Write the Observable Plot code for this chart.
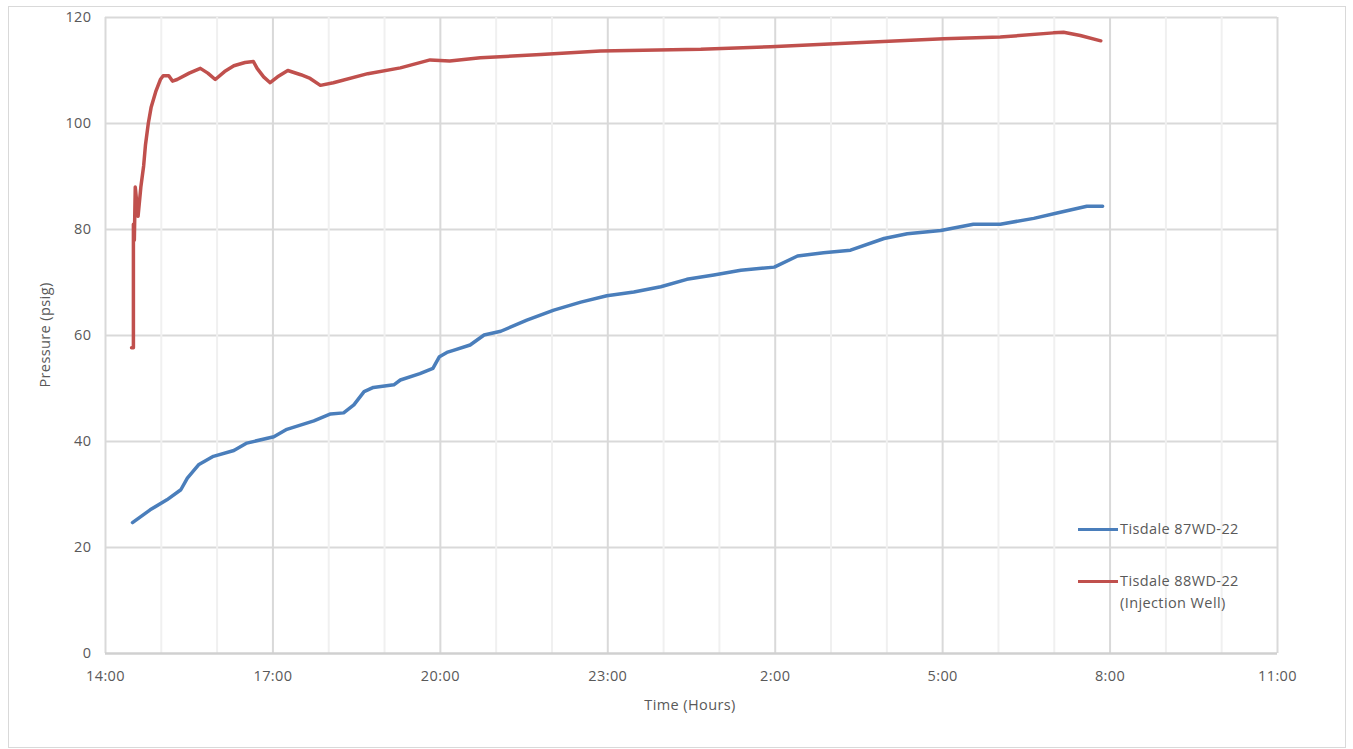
<!DOCTYPE html>
<html><head><meta charset="utf-8">
<script src="https://cdn.jsdelivr.net/npm/d3@7"></script>
<script src="https://cdn.jsdelivr.net/npm/@observablehq/plot@0.6"></script>
<style>
html,body{margin:0;padding:0;background:#fff;}
body{width:1353px;height:749px;position:relative;overflow:hidden;font-family:"Open Sans",Lato,sans-serif;color:#595959;}
#frame{position:absolute;left:8px;top:6px;width:1338px;height:742px;border:1px solid #d9d9d9;box-sizing:border-box;}
#chart{position:absolute;left:0;top:0;}
#chart svg text{letter-spacing:0.4px;}
.t{position:absolute;font-size:14.5px;color:#595959;white-space:nowrap;line-height:22px;letter-spacing:0.4px;}
.sw{position:absolute;width:40px;height:3px;}
</style>
</head><body>
<div id="frame"></div>
<div id="chart"></div>
<div class="t" id="ytitle" style="left:45px;top:335px;transform:translate(-50%,-50%) rotate(-90deg);">Pressure (psig)</div>
<div class="t" id="xtitle" style="left:690px;top:705px;transform:translate(-50%,-50%);">Time (Hours)</div>
<div class="sw" style="left:1078px;top:528px;background:#4a7ebb"></div>
<div class="t" style="left:1120px;top:518px;">Tisdale 87WD-22</div>
<div class="sw" style="left:1078px;top:580px;background:#c0504d"></div>
<div class="t" style="left:1120px;top:570px;">Tisdale 88WD-22<br>(Injection Well)</div>
<script>
// ---- data ----
const xTickLabels = ["14:00","17:00","20:00","23:00","2:00","5:00","8:00","11:00"];
const yTicks = [0,20,40,60,80,100,120];

const blueName = "Tisdale 87WD-22";
const blueTime = ["14:29","14:48","15:06","15:21","15:28","15:40","15:56","16:18","16:32","17:01","17:15","17:44","18:02","18:16","18:27","18:38","18:48","19:10","19:17","19:38","19:52","19:59","20:07","20:14","20:32","20:47","21:05","21:33","22:02","22:31","22:59","23:28","23:57","00:25","00:54","01:23","01:59","02:24","02:52","03:21","03:57","04:22","04:58","05:33","06:02","06:38","07:03","07:35","07:52"];
const bluePressure = [24.7,27.1,29.0,30.9,33.1,35.6,37.2,38.3,39.7,40.9,42.3,43.9,45.2,45.4,46.9,49.4,50.2,50.7,51.6,52.8,53.8,56.0,56.8,57.2,58.2,60.1,60.8,62.9,64.8,66.3,67.5,68.2,69.2,70.6,71.4,72.3,72.9,75.0,75.6,76.1,78.3,79.2,79.8,81.0,81.0,82.1,83.1,84.4,84.4];

const redName = "Tisdale 88WD-22 (Injection Well)";
const redTime = ["14:28","14:30","14:30","14:31","14:32","14:35","14:38","14:41","14:43","14:46","14:49","14:54","14:59","15:02","15:08","15:12","15:17","15:30","15:42","15:50","15:58","16:08","16:18","16:30","16:39","16:43","16:50","16:57","17:05","17:16","17:30","17:40","17:51","18:05","18:42","19:17","19:49","20:10","20:43","21:48","22:52","00:40","01:55","03:21","05:01","06:02","06:59","07:10","07:28","07:50"];
const redPressure = [57.7,57.7,81,78,88,82.5,88,92,96,100,103,106,108.3,109,109,108,108.3,109.5,110.4,109.5,108.3,109.8,110.9,111.5,111.7,110.4,108.8,107.7,108.8,110,109.2,108.5,107.2,107.7,109.4,110.5,112,111.8,112.4,113,113.7,114,114.5,115.2,116,116.3,117.1,117.2,116.6,115.6];

// hours since 14:00 (times before 14:00 are on the next day)
const toH = s => { const [h, m] = s.split(":").map(Number); let v = h + m / 60; if (v < 14) v += 24; return v - 14; };

const blue = blueTime.map((t, i) => ({h: toH(t), v: bluePressure[i], s: blueName}));
const red = redTime.map((t, i) => ({h: toH(t), v: redPressure[i], s: redName}));
const xTicks = xTickLabels.map(toH);
const xDomain = [xTicks[0], xTicks[xTicks.length - 1]];
const minor = d3.range(xDomain[0], xDomain[1] + 1).filter(h => !xTicks.includes(h));
const labelOf = new Map(xTicks.map((h, i) => [h, xTickLabels[i]]));

const chart = Plot.plot({
  width: 1353, height: 749,
  marginLeft: 105, marginRight: 76, marginTop: 17, marginBottom: 96,
  style: {fontFamily: "'Open Sans', Lato, sans-serif", fontSize: "14.5px", color: "#595959", background: "transparent"},
  x: {domain: xDomain, axis: null},
  y: {domain: [0, 120], axis: null},
  marks: [
    Plot.ruleY(yTicks.filter(d => d > 0), {stroke: "#d9d9d9", strokeWidth: 2}),
    Plot.ruleX(minor, {stroke: "#f0f0f0", strokeWidth: 2}),
    Plot.ruleX(xTicks, {stroke: "#d9d9d9", strokeWidth: 2}),
    Plot.ruleY([0], {stroke: "#d0d0d0", strokeWidth: 2.5}),
    Plot.axisY(yTicks, {tickSize: 0, tickPadding: 14, label: null, fill: "#595959"}),
    Plot.axisX(xTicks, {tickSize: 0, tickPadding: 17, label: null, fill: "#595959", tickFormat: d => labelOf.get(d)}),
    Plot.line(blue, {x: "h", y: "v", stroke: "#4a7ebb", strokeWidth: 3.5}),
    Plot.line(red, {x: "h", y: "v", stroke: "#c0504d", strokeWidth: 3.5})
  ]
});
document.getElementById("chart").appendChild(chart);
</script>
</body></html>
